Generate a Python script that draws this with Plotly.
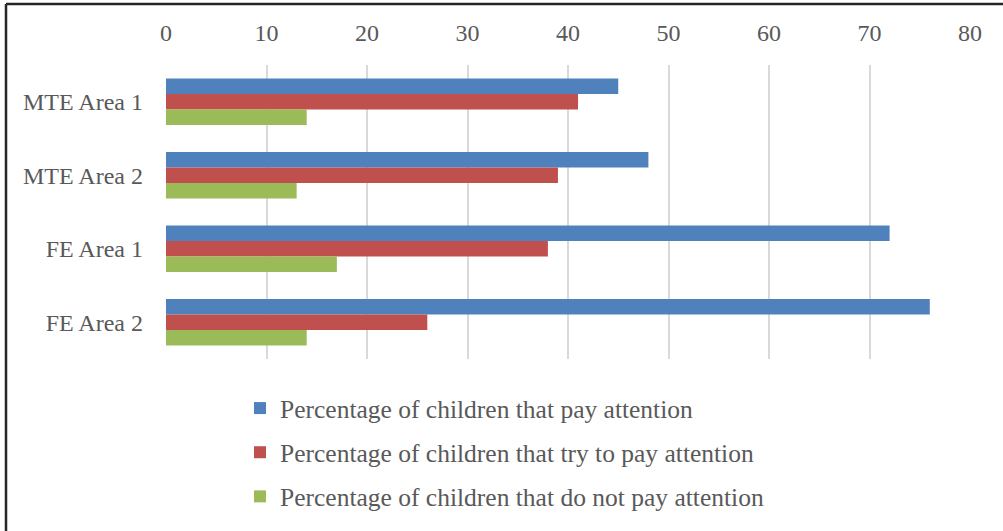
import plotly.graph_objects as go

categories = ["MTE Area 1", "MTE Area 2", "FE Area 1", "FE Area 2"]
series_names = [
    "Percentage of children that pay attention",
    "Percentage of children that try to pay attention",
    "Percentage of children that do not pay attention",
]
pay_attention = [45, 48, 72, 76]
try_attention = [41, 39, 38, 26]
no_attention = [14, 13, 17, 14]
colors = ["#4f81bd", "#c0504d", "#9bbb59"]
x_ticks = [0, 10, 20, 30, 40, 50, 60, 70, 80]

FONT = "Liberation Serif"
TXT = "#595959"

fig = go.Figure()
for name, vals, col in zip(series_names, [pay_attention, try_attention, no_attention], colors):
    fig.add_trace(go.Bar(
        y=categories, x=vals, name=name, orientation="h",
        marker=dict(color=col, line=dict(width=0)),
        legendgroup=name,
    ))

W, H = 1003, 531
ml, mr, mt, mb = 166, 33, 65, 172
fig.update_layout(
    width=W, height=H,
    margin=dict(l=ml, r=mr, t=mt, b=mb, pad=0, autoexpand=False),
    paper_bgcolor="white", plot_bgcolor="white",
    barmode="group", bargap=0.37, bargroupgap=0,
    font=dict(family=FONT, size=24, color=TXT),
    xaxis=dict(side="top", range=[0, 80], tickvals=x_ticks, showgrid=True,
               gridcolor="#d9d9d9", gridwidth=1.5, zeroline=False, showline=False,
               ticks="", tickfont=dict(family=FONT, size=24, color=TXT), ticklabelstandoff=18),
    yaxis=dict(autorange="reversed", showgrid=False, zeroline=False, showline=False,
               ticks="", tickfont=dict(family=FONT, size=24, color=TXT), ticklabelstandoff=22),
    legend=dict(orientation="v", x=(240 - ml) / (W - ml - mr), xanchor="left",
                y=-(385 - (H - mb)) / (H - mt - mb), yanchor="top",
                traceorder="grouped", tracegroupgap=8,
                font=dict(family=FONT, size=25.5, color=TXT), bgcolor="rgba(0,0,0,0)"),
    showlegend=True,
)

pw = W - ml - mr
ph = H - mt - mb
left_x = (6 - ml) / pw
top_y = 1 + (mt - 4) / ph
fig.add_shape(type="line", xref="paper", yref="paper", x0=left_x, x1=left_x,
              y0=top_y, y1=-(H + 5 - mt - ph) / ph, line=dict(color="#262626", width=2.5))
fig.add_shape(type="line", xref="paper", yref="paper", x0=left_x, x1=(W + 5 - ml) / pw,
              y0=top_y, y1=top_y, line=dict(color="#262626", width=2.5))

fig.write_html("out.html")
